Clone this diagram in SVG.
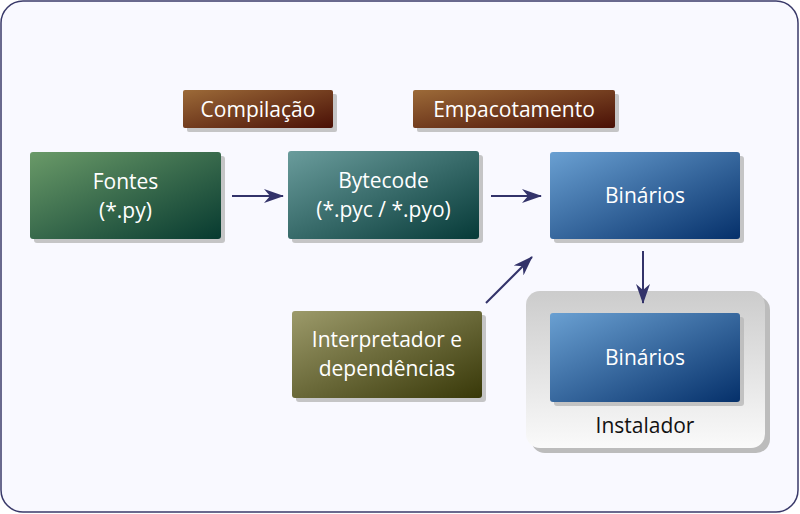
<svg xmlns="http://www.w3.org/2000/svg" width="800" height="514" viewBox="0 0 800 514">
<defs>
<linearGradient id="gGreen" x1="0" y1="0" x2="1" y2="1"><stop offset="0" stop-color="#6a9a68"/><stop offset="1" stop-color="#073a30"/></linearGradient>
<linearGradient id="gTeal" x1="0" y1="0" x2="1" y2="1"><stop offset="0" stop-color="#6a9c9c"/><stop offset="1" stop-color="#063a38"/></linearGradient>
<linearGradient id="gBlue" x1="0" y1="0" x2="1" y2="1"><stop offset="0" stop-color="#6aa0d2"/><stop offset="1" stop-color="#05306a"/></linearGradient>
<linearGradient id="gOlive" x1="0" y1="0" x2="1" y2="1"><stop offset="0" stop-color="#9c9a6a"/><stop offset="1" stop-color="#383808"/></linearGradient>
<linearGradient id="gBrown" x1="0" y1="0" x2="1" y2="1"><stop offset="0" stop-color="#9c6a38"/><stop offset="1" stop-color="#4a1006"/></linearGradient>
<linearGradient id="gGray" x1="0" y1="0" x2="0" y2="1"><stop offset="0" stop-color="#cccccc"/><stop offset="1" stop-color="#fafafa"/></linearGradient>
<marker id="arr" viewBox="0 0 20 14" refX="19" refY="7" markerWidth="20" markerHeight="14" markerUnits="userSpaceOnUse" orient="auto"><path d="M0,0 L20,7 L0,14 L6,7 Z" fill="#33336a"/></marker>
</defs>
<style>
.sh{fill:#b8b8b8;opacity:0.8}
.lbl{font-family:"Open Sans","Noto Sans",sans-serif;font-size:21px;fill:#ffffff;text-anchor:middle}
.blk{font-family:"Open Sans","Noto Sans",sans-serif;font-size:21px;fill:#111111;text-anchor:middle}
.con{stroke:#33336a;stroke-width:2;fill:none;marker-end:url(#arr)}
</style>
<rect x="1" y="1" width="797" height="511" rx="22" fill="#f9f9ff" stroke="#3a3a6a" stroke-width="1.5"/>
<g id="compilacao">
<rect class="sh" x="187" y="94" width="150" height="38" rx="2"/>
<rect x="183" y="90" width="150" height="38" rx="2" fill="url(#gBrown)"/>
<text class="lbl" x="258" y="117">Compilação</text>
</g>
<g id="empacotamento">
<rect class="sh" x="417" y="94" width="202" height="38" rx="2"/>
<rect x="413" y="90" width="202" height="38" rx="2" fill="url(#gBrown)"/>
<text class="lbl" x="514" y="117">Empacotamento</text>
</g>
<g id="fontes">
<rect class="sh" x="34" y="156" width="191" height="87" rx="3"/>
<rect x="30" y="152" width="191" height="87" rx="3" fill="url(#gGreen)"/>
<text class="lbl" x="125.5" y="189">Fontes</text>
<text class="lbl" x="125.5" y="218">(*.py)</text>
</g>
<g id="bytecode">
<rect class="sh" x="292" y="155" width="191" height="88" rx="3"/>
<rect x="288" y="151" width="191" height="88" rx="3" fill="url(#gTeal)"/>
<text class="lbl" x="383.5" y="188">Bytecode</text>
<text class="lbl" x="383.5" y="217">(*.pyc / *.pyo)</text>
</g>
<g id="binarios1">
<rect class="sh" x="554" y="156" width="190" height="87" rx="3"/>
<rect x="550" y="152" width="190" height="87" rx="3" fill="url(#gBlue)"/>
<text class="lbl" x="645" y="203">Binários</text>
</g>
<g id="interpretador">
<rect class="sh" x="296" y="315" width="190" height="87" rx="3"/>
<rect x="292" y="311" width="190" height="87" rx="3" fill="url(#gOlive)"/>
<text class="lbl" x="387" y="347">Interpretador e</text>
<text class="lbl" x="387" y="376">dependências</text>
</g>
<g id="instalador">
<rect x="531" y="296" width="239" height="157" rx="14" fill="#bcbcbc"/>
<rect x="526" y="291" width="239" height="157" rx="14" fill="url(#gGray)"/>
<text class="blk" x="645" y="433">Instalador</text>
<g id="binarios2">
<rect class="sh" x="554" y="317" width="190" height="89" rx="3"/>
<rect x="550" y="313" width="190" height="89" rx="3" fill="url(#gBlue)"/>
<text class="lbl" x="645" y="365">Binários</text>
</g>
</g>
<g id="connectors">
<line class="con" x1="232" y1="196" x2="283" y2="196"/>
<line class="con" x1="491" y1="196" x2="541" y2="196"/>
<line class="con" x1="486" y1="303" x2="532" y2="257"/>
<line class="con" x1="643" y1="251" x2="643" y2="303"/>
</g>
</svg>
